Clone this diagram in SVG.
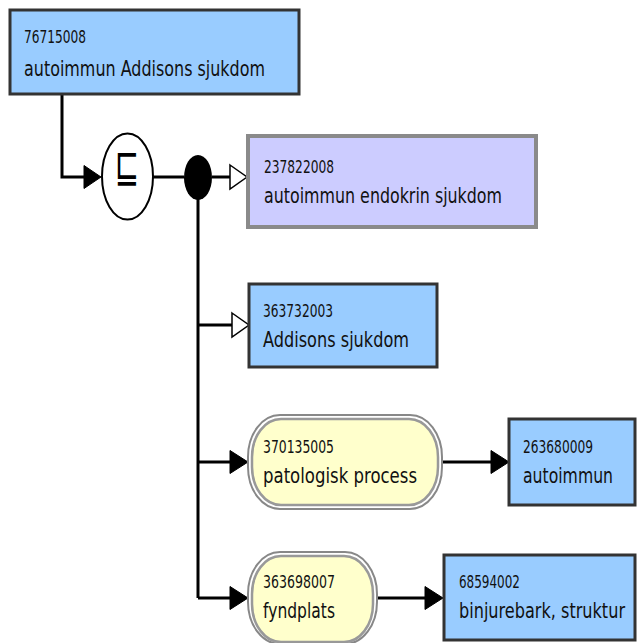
<svg xmlns="http://www.w3.org/2000/svg" width="637" height="643" viewBox="0 0 637 643">
<style>
.num{font-family:"DejaVu Sans",sans-serif;font-size:17px;fill:#111}
.lbl{font-family:"DejaVu Sans",sans-serif;font-size:22px;fill:#111}
.blue{fill:#99ccff;stroke:#333;stroke-width:3}
.purple{fill:#ccccff;stroke:#8a8a8a;stroke-width:4}
.pillo{fill:none;stroke:#888;stroke-width:2}
.pilli{fill:#ffffcc;stroke:#999;stroke-width:2.5}
.ln{fill:none;stroke:#000;stroke-width:3}
.fa{fill:#000;stroke:#000;stroke-width:1}
.oa{fill:#fff;stroke:#000;stroke-width:1.5}
</style>
<rect width="637" height="643" fill="#fff"/>
<g id="connectors">
<path class="ln" d="M62,94 V177 H86"/>
<polygon class="fa" points="84,165.5 101,177 84,188.5"/>
<path class="ln" d="M153,177 H184"/>
<path class="ln" d="M212,177 H230"/>
<polygon class="oa" points="230,165 247,177 230,189"/>
<path class="ln" d="M198,199 V598"/>
<path class="ln" d="M198,325 H232"/>
<polygon class="oa" points="232,313 249,325 232,337"/>
<path class="ln" d="M198,462 H232"/>
<polygon class="fa" points="230,450.5 248,462 230,473.5"/>
<path class="ln" d="M442,462 H494"/>
<polygon class="fa" points="491,450.5 509,462 491,473.5"/>
<path class="ln" d="M198,598 H232"/>
<polygon class="fa" points="230,586.5 248,598 230,609.5"/>
<path class="ln" d="M377,598 H428"/>
<polygon class="fa" points="425,586.5 443,598 425,609.5"/>
</g>
<g id="n1">
<rect class="blue" x="10" y="10" width="289" height="84"/>
<text class="num" x="24" y="43" textLength="62" lengthAdjust="spacingAndGlyphs">76715008</text>
<text class="lbl" x="24" y="76" textLength="241" lengthAdjust="spacingAndGlyphs">autoimmun Addisons sjukdom</text>
</g>
<g id="op">
<ellipse cx="127.5" cy="176.5" rx="25.5" ry="43" fill="#fff" stroke="#000" stroke-width="2"/>
<text x="127" y="183" font-family="DejaVu Sans,sans-serif" font-size="29" text-anchor="middle" transform="translate(0,-111) scale(1,1.6)" fill="#000">⊑</text>
</g>
<g id="dot">
<ellipse cx="198" cy="177.5" rx="14" ry="22.5" fill="#000"/>
</g>
<g id="n2">
<rect class="purple" x="248" y="136" width="288" height="91"/>
<text class="num" x="264" y="173" textLength="70" lengthAdjust="spacingAndGlyphs">237822008</text>
<text class="lbl" x="264" y="203" textLength="238" lengthAdjust="spacingAndGlyphs">autoimmun endokrin sjukdom</text>
</g>
<g id="n3">
<rect class="blue" x="249" y="284" width="188" height="83"/>
<text class="num" x="263" y="317" textLength="70" lengthAdjust="spacingAndGlyphs">363732003</text>
<text class="lbl" x="263" y="347" textLength="146" lengthAdjust="spacingAndGlyphs">Addisons sjukdom</text>
</g>
<g id="n4">
<rect class="pillo" x="248" y="415" width="194" height="94" rx="32" ry="42"/>
<rect class="pilli" x="252" y="419" width="186" height="86" rx="29" ry="38"/>
<text class="num" x="263" y="453" textLength="71" lengthAdjust="spacingAndGlyphs">370135005</text>
<text class="lbl" x="263" y="483" textLength="154" lengthAdjust="spacingAndGlyphs">patologisk process</text>
</g>
<g id="n5">
<rect class="blue" x="509" y="419" width="126" height="86"/>
<text class="num" x="523" y="453" textLength="70" lengthAdjust="spacingAndGlyphs">263680009</text>
<text class="lbl" x="523" y="483" textLength="90" lengthAdjust="spacingAndGlyphs">autoimmun</text>
</g>
<g id="n6">
<rect class="pillo" x="248" y="552" width="129" height="92" rx="32" ry="42"/>
<rect class="pilli" x="252" y="556" width="121" height="86" rx="29" ry="38"/>
<text class="num" x="263" y="588" textLength="72" lengthAdjust="spacingAndGlyphs">363698007</text>
<text class="lbl" x="263" y="618" textLength="72" lengthAdjust="spacingAndGlyphs">fyndplats</text>
</g>
<g id="n7">
<rect class="blue" x="444" y="555" width="191" height="85"/>
<text class="num" x="459" y="588" textLength="61" lengthAdjust="spacingAndGlyphs">68594002</text>
<text class="lbl" x="459" y="618" textLength="166" lengthAdjust="spacingAndGlyphs">binjurebark, struktur</text>
</g>
</svg>
